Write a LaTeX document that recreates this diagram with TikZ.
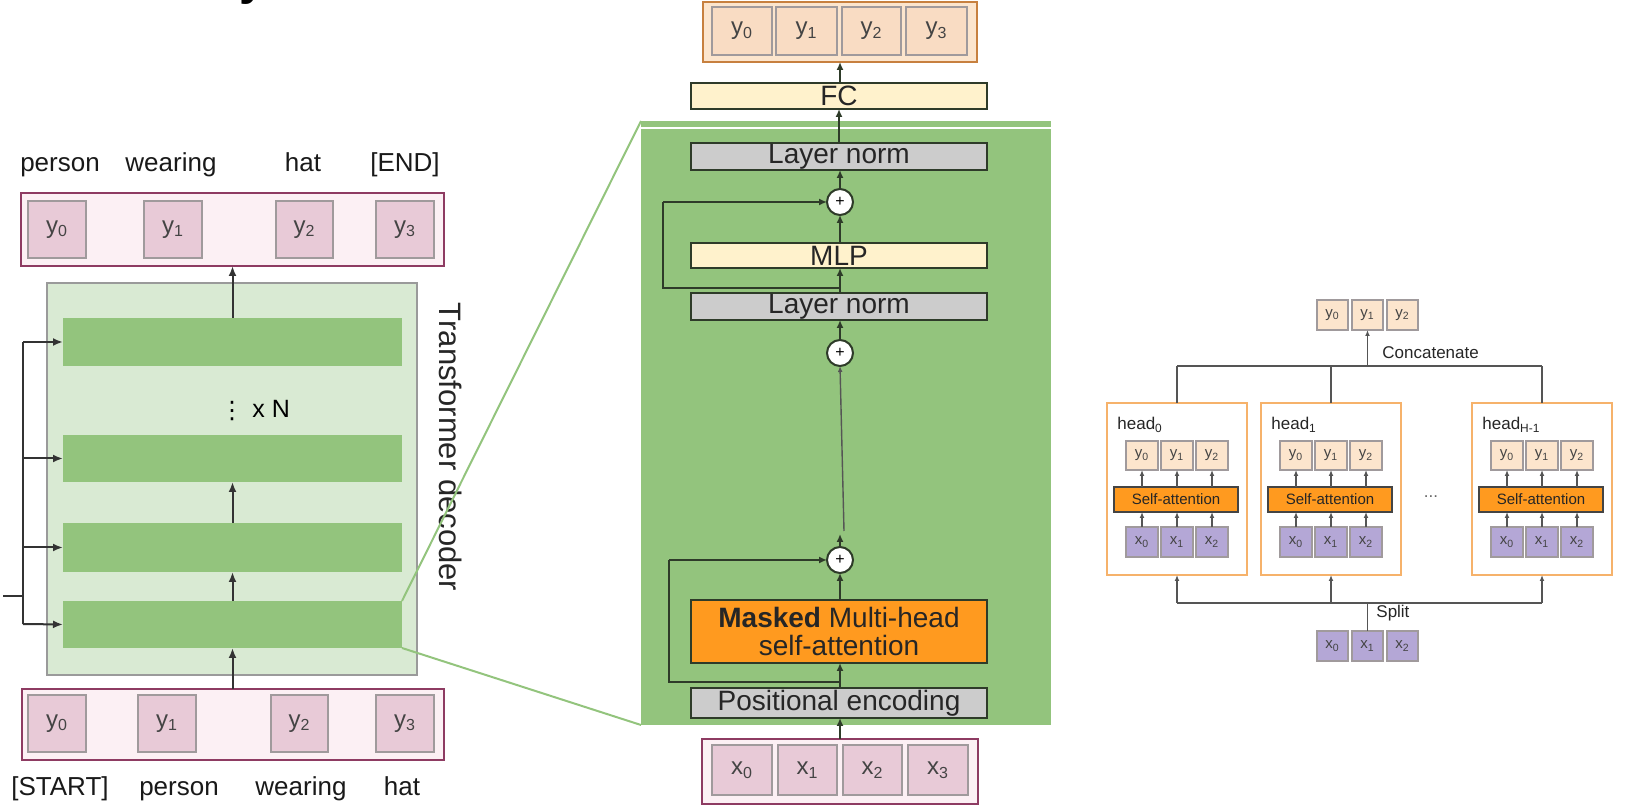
\documentclass[tikz,border=0pt]{standalone}
\usepackage{fontspec}
\setmainfont{Liberation Sans}
\newfontfamily\symfont{DejaVu Sans}
\usetikzlibrary{arrows.meta}

\definecolor{seqborder}{HTML}{8E3B62}
\definecolor{seqfill}{HTML}{FCF0F4}
\definecolor{cellpink}{HTML}{E8CAD7}
\definecolor{cellline}{HTML}{A09A9C}
\definecolor{decfill}{HTML}{D9EAD3}
\definecolor{decline}{HTML}{9A9A9A}
\definecolor{bargreen}{HTML}{93C47D}
\definecolor{boxline}{HTML}{2E3B29}
\definecolor{lightyellow}{HTML}{FFF2CC}
\definecolor{normgray}{HTML}{CCCCCC}
\definecolor{attnorange}{HTML}{FF9A1F}
\definecolor{peachborder}{HTML}{C7803F}
\definecolor{peachfill}{HTML}{FCE5CD}
\definecolor{peachcell}{HTML}{F9DCC3}
\definecolor{headorange}{HTML}{F6B26B}
\definecolor{lilac}{HTML}{B4A7D6}
\definecolor{inkgray}{HTML}{444444}
\definecolor{leftink}{HTML}{333333}
\definecolor{thinink}{HTML}{555555}

% box from corner (x1,y1) to corner (x2,y2), in pixel units
\newcommand\mkbox[7]{\node[#2, minimum width={((#5)-(#3))*0.5pt}, minimum height={((#6)-(#4))*0.5pt}] (#1) at ({((#3)+(#5))/2},{((#4)+(#6))/2}) {#7};}
\newcommand\tok[2]{#1\textsubscript{#2}}

\begin{document}
\begin{tikzpicture}[x=0.5pt,y=-0.5pt,
  base/.style={rectangle, inner sep=0pt, outer sep=0pt},
  seqbox/.style={base, draw=seqborder, fill=seqfill, line width=1.2pt},
  pcell/.style={base, draw=cellline, fill=cellpink, line width=0.7pt, text=inkgray, font=\fontsize{12}{14}\selectfont},
  decbox/.style={base, draw=decline, fill=decfill, line width=0.8pt},
  layerbar/.style={base, fill=bargreen},
  word/.style={inner sep=0pt, anchor=base, font=\fontsize{13}{15}\selectfont, text=black!90},
  blk/.style={base, draw=boxline, line width=1pt, font=\fontsize{14}{15}\selectfont, text=black!85},
  yellowblk/.style={blk, fill=lightyellow},
  normblk/.style={blk, fill=normgray},
  attnblk/.style={blk, fill=attnorange, align=center},
  plusnode/.style={circle, draw=boxline, fill=white, line width=1pt, minimum size=13pt, inner sep=0pt, outer sep=0pt, font=\fontsize{8}{8}\selectfont},
  peachbox/.style={base, draw=peachborder, fill=peachfill, line width=1.2pt},
  ocell/.style={base, draw=cellline, fill=peachcell, line width=0.7pt, text=inkgray, font=\fontsize{12}{14}\selectfont},
  rcell/.style={base, draw=cellline, fill=peachfill, line width=0.6pt, text=inkgray, font=\fontsize{7.5}{8}\selectfont},
  xcell/.style={base, draw=cellline, fill=lilac, line width=0.6pt, text=inkgray, font=\fontsize{7.5}{8}\selectfont},
  headbox/.style={base, draw=headorange, fill=white, line width=1pt},
  sablk/.style={base, draw=inkgray, fill=attnorange, line width=0.8pt, font=\fontsize{7.5}{8}\selectfont, text=black!85},
  small/.style={inner sep=0pt, font=\fontsize{8.5}{9}\selectfont, text=black!85},
  larr/.style={draw=leftink, line width=1pt, -{Latex[length=5pt,width=4pt]}},
  lline/.style={draw=leftink, line width=1pt},
  marr/.style={draw=boxline, line width=1pt, -{Latex[length=4pt,width=3.5pt]}},
  mline/.style={draw=boxline, line width=1pt},
  rarr/.style={draw=thinink, line width=0.7pt, -{Latex[length=3pt,width=2.4pt]}},
  rline/.style={draw=thinink, line width=0.7pt},
  zoomline/.style={draw=bargreen, line width=1pt}
]
\useasboundingbox (0,0) rectangle (1635,806);

% heading, cut by the top edge
\node[anchor=south west, inner sep=0pt, font=\bfseries\fontsize{24}{24}\selectfont] (heading) at (239,5) {y};

% ---------------- decoder stack ----------------
\node[word] (w1) at (60,172) {person};
\node[word] (w2) at (171,172) {wearing};
\node[word] (w3) at (303,172) {hat};
\node[word] (w4) at (405,172) {[END]};

\mkbox{topseq}{seqbox}{21}{193}{444}{266}{}
\mkbox{ty0}{pcell}{28}{201}{86}{258}{\tok{y}{0}}
\mkbox{ty1}{pcell}{144}{201}{202}{258}{\tok{y}{1}}
\mkbox{ty2}{pcell}{276}{201}{333}{258}{\tok{y}{2}}
\mkbox{ty3}{pcell}{376}{201}{434}{258}{\tok{y}{3}}

\mkbox{dec}{decbox}{47}{283}{417}{675}{}
\mkbox{bar1}{layerbar}{63}{318}{402}{366}{}
\mkbox{bar2}{layerbar}{63}{435}{402}{482}{}
\mkbox{bar3}{layerbar}{63}{523}{402}{572}{}
\mkbox{bar4}{layerbar}{63}{601}{402}{648}{}

\node[inner sep=0pt, font=\symfont\fontsize{12}{12}\selectfont] (vdots) at (232,411) {⋮};
\node[inner sep=0pt, anchor=base west, font=\fontsize{12.5}{14}\selectfont] (times) at (252,418) {x N};

\node[rotate=-90, inner sep=0pt, font=\fontsize{15.5}{17}\selectfont, text=black!85] (declabel) at (451,447) {Transformer decoder};

\mkbox{botseq}{seqbox}{22}{689}{444}{760}{}
\mkbox{by0}{pcell}{28}{695}{86}{752}{\tok{y}{0}}
\mkbox{by1}{pcell}{138}{695}{196}{752}{\tok{y}{1}}
\mkbox{by2}{pcell}{271}{695}{328}{752}{\tok{y}{2}}
\mkbox{by3}{pcell}{376}{695}{434}{752}{\tok{y}{3}}

\node[word] (v1) at (60,796) {[START]};
\node[word] (v2) at (179,796) {person};
\node[word] (v3) at (301,796) {wearing};
\node[word] (v4) at (402,796) {hat};

\draw[larr] (bar1.north) -- (bar1.north |- topseq.south);
\draw[larr] (bar3.north) -- (bar2.south);
\draw[larr] (bar4.north) -- (bar3.south);
\draw[larr] (bar4.south |- botseq.north) -- (bar4.south);

% encoder features fed to every layer
\coordinate (fin) at (3,596);
\coordinate (fj) at (23,596);
\coordinate (ftop) at (23,342);
\coordinate (fbot) at (23,624);
\draw[lline] (fin) -- (fj);
\draw[lline] (ftop) -- (fbot);
\draw[larr] (ftop) -- (bar1.west);
\draw[larr] (bar2.west -| fj) -- (bar2.west);
\draw[larr] (bar3.west -| fj) -- (bar3.west);
\draw[larr] (fbot) -- (bar4.west);

% ---------------- one decoder layer ----------------
\mkbox{panel}{base, fill=bargreen}{641}{121}{1051}{725}{}
\draw[white, line width=1.2pt] (panel.north west) ++(0,7) coordinate (wl) -- (wl -| panel.east);

\draw[zoomline] (bar4.north east) -- (panel.north west);
\draw[zoomline] (bar4.south east) -- (panel.south west);

\mkbox{outbox}{peachbox}{703}{2}{977}{62}{}
\mkbox{oy0}{ocell}{712}{7}{772}{55}{\tok{y}{0}}
\mkbox{oy1}{ocell}{776}{7}{837}{55}{\tok{y}{1}}
\mkbox{oy2}{ocell}{842}{7}{901}{55}{\tok{y}{2}}
\mkbox{oy3}{ocell}{906}{7}{967}{55}{\tok{y}{3}}

\mkbox{fc}{yellowblk}{691}{83}{987}{109}{FC}
\mkbox{ln1}{normblk}{691}{143}{987}{170}{Layer norm}
\node[plusnode] (p1) at (840,202) {+};
\mkbox{mlp}{yellowblk}{691}{243}{987}{268}{MLP}
\mkbox{ln2}{normblk}{691}{293}{987}{320}{Layer norm}
\node[plusnode] (p2) at (840,353) {+};
\node[plusnode] (p3) at (840,560) {+};
\mkbox{mhsa}{attnblk}{691}{600}{987}{663}{\textbf{Masked} Multi-head\\[-1pt]self-attention}
\mkbox{pe}{normblk}{691}{688}{987}{718}{Positional encoding}

\mkbox{inbox}{seqbox}{702}{739}{978}{804}{}
\mkbox{ix0}{pcell}{712}{745}{772}{795}{\tok{x}{0}}
\mkbox{ix1}{pcell}{778}{745}{837}{795}{\tok{x}{1}}
\mkbox{ix2}{pcell}{843}{745}{902}{795}{\tok{x}{2}}
\mkbox{ix3}{pcell}{908}{745}{968}{795}{\tok{x}{3}}

\draw[marr] (fc.north -| outbox.south) -- (outbox.south);
\draw[marr] (ln1.north -| fc.south) -- (fc.south -| ln1.north);
\draw[marr] (p1.north) -- (p1.north |- ln1.south);
\draw[marr] (p1.south |- mlp.north) -- (p1.south);
\draw[marr] (p1.south |- ln2.north) -- (p1.south |- mlp.south);
\draw[marr] (p2.north) -- (p2.north |- ln2.south);
\coordinate (mid) at (840,534);
\coordinate (midt) at (844,531);
\draw[marr] (p3.north) -- (mid);
\draw[rarr] (midt) -- (p2.south);
\draw[marr] (p3.south |- mhsa.north) -- (p3.south);
\draw[marr] (p3.south |- pe.north) -- (p3.south |- mhsa.south);
\draw[marr] (p3.south |- inbox.north) -- (p3.south |- pe.south);

% residual connections
\coordinate (j1) at (840,288);
\coordinate (r1) at (663,288);
\draw[mline] (j1) -- (r1) -- (r1 |- p1.west);
\draw[marr] (r1 |- p1.west) -- (p1.west);
\coordinate (j2) at (840,682);
\coordinate (r2) at (669,682);
\draw[mline] (j2) -- (r2) -- (r2 |- p3.west);
\draw[marr] (r2 |- p3.west) -- (p3.west);

% ---------------- multi-head attention ----------------
\mkbox{cy0}{rcell}{1317}{300}{1348}{330}{\tok{y}{0}}
\mkbox{cy1}{rcell}{1352}{300}{1383}{330}{\tok{y}{1}}
\mkbox{cy2}{rcell}{1387}{300}{1418}{330}{\tok{y}{2}}

\mkbox{sx0}{xcell}{1317}{631}{1348}{661}{\tok{x}{0}}
\mkbox{sx1}{xcell}{1352}{631}{1383}{661}{\tok{x}{1}}
\mkbox{sx2}{xcell}{1387}{631}{1418}{661}{\tok{x}{2}}

\foreach \h/\L/\sub in {0/1107/0, 1/1261/1, 2/1472/H-1} {
  \mkbox{h\h}{headbox}{\L}{403}{\L+140}{575}{}
  \node[small, anchor=base west] (hl\h) at (\L+10,430) {head\textsubscript{\sub}};
  \mkbox{sa\h}{sablk}{\L+7}{487}{\L+131}{512}{Self-attention}
  \mkbox{hy\h a}{rcell}{\L+19}{441}{\L+51}{470}{\tok{y}{0}}
  \mkbox{hy\h b}{rcell}{\L+54}{441}{\L+86}{470}{\tok{y}{1}}
  \mkbox{hy\h c}{rcell}{\L+89}{441}{\L+121}{470}{\tok{y}{2}}
  \mkbox{hx\h a}{xcell}{\L+19}{527}{\L+51}{557}{\tok{x}{0}}
  \mkbox{hx\h b}{xcell}{\L+54}{527}{\L+86}{557}{\tok{x}{1}}
  \mkbox{hx\h c}{xcell}{\L+89}{527}{\L+121}{557}{\tok{x}{2}}
  \foreach \c in {a,b,c} {
    \draw[rarr] (hy\h\c.south |- sa\h.north) -- (hy\h\c.south);
    \draw[rarr] (hx\h\c.north) -- (hx\h\c.north |- sa\h.south);
  }
}

\node[small, text=black!60] (more) at (1431,497) {...};

% concatenate
\coordinate (cl) at (1177,366);
\coordinate (cr) at (1542,366);
\draw[rline] (cl) -- (cr);
\draw[rline] (h0.north) -- (h0.north |- cl);
\draw[rline] (h1.north) -- (h1.north |- cl);
\draw[rline] (h2.north) -- (h2.north |- cl);
\draw[rarr] (cy1.south |- cl) -- (cy1.south);
\node[small, anchor=base west] (concat) at (1382,359) {Concatenate};

% split
\coordinate (sl) at (1177,603);
\coordinate (sr) at (1542,603);
\draw[rline] (sl) -- (sr);
\draw[rline] (sx1.north) -- (sx1.north |- sl);
\draw[rarr] (h0.south |- sl) -- (h0.south);
\draw[rarr] (h1.south |- sl) -- (h1.south);
\draw[rarr] (h2.south |- sl) -- (h2.south);
\node[small, anchor=base west] (split) at (1376,618) {Split};
\end{tikzpicture}
\end{document}
